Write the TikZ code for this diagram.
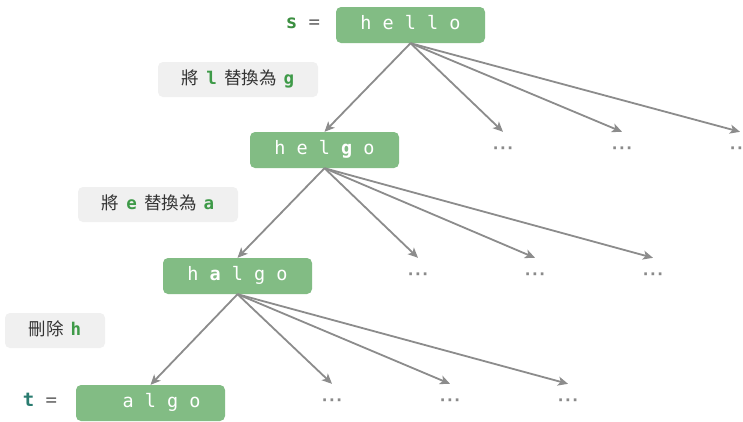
\documentclass[tikz,border=0pt]{standalone}
\usepackage{fontspec}
\setmonofont{DejaVu Sans Mono}
\newfontfamily\cjk{Noto Sans CJK TC}
\newfontfamily\djv{DejaVu Sans}
\usetikzlibrary{arrows.meta}
\definecolor{boxgreen}{HTML}{82BC84}
\definecolor{lblgray}{HTML}{F0F0F0}
\definecolor{lbltext}{HTML}{333333}
\definecolor{hlgreen}{HTML}{3E9A48}
\definecolor{sgreen}{HTML}{3B8F40}
\definecolor{tteal}{HTML}{2A7C70}
\definecolor{eqgray}{HTML}{666666}
\definecolor{arrgray}{HTML}{8C8C8C}
\definecolor{dotgray}{HTML}{8A8A8A}
\newcommand{\hl}[1]{\textcolor{hlgreen}{\ttfamily\bfseries #1}}
\newcommand{\mydots}{·\kern1.6pt·\kern1.6pt·}
\begin{document}
\begin{tikzpicture}[x=1pt,y=-1pt,
  strbox/.style={fill=boxgreen, rounded corners=5pt, minimum width=149pt, minimum height=36pt,
    inner sep=0pt, text=white, text height=13pt, text depth=4pt,
    font=\ttfamily\fontsize{18.5}{18.5}\selectfont},
  opbox/.style={fill=lblgray, rounded corners=5pt, minimum height=35pt, inner sep=0pt,
    text=lbltext, text height=13pt, text depth=4pt, font=\cjk\fontsize{17.5}{17.5}\selectfont},
  more/.style={minimum width=30pt, minimum height=36pt, inner sep=0pt, text=dotgray,
    font=\djv\bfseries\fontsize{15}{15}\selectfont},
  eqlbl/.style={inner sep=0pt, text height=13pt, text depth=4pt,
    font=\ttfamily\fontsize{19}{19}\selectfont},
  edge/.style={draw=arrgray, line width=1.8pt, -{Stealth[length=10pt,width=9pt,inset=2.5pt]}}]
\path[fill=white, use as bounding box] (0,0) rectangle (743,421);

% string boxes
\node[strbox] (hello) at (410.5,25) {h e l l o};
\node[strbox] (helgo) at (324.5,150) {h e l {\bfseries g} o};
\node[strbox] (halgo) at (237.5,276) {h {\bfseries a} l g o};
\node[strbox] (algo) at (150.5,403) {\phantom{h} a l g o};

% s = , t =
\node[eqlbl] (slbl) at (303,24) {\textcolor{sgreen}{\bfseries s} \textcolor{eqgray}{=}};
\node[eqlbl] (tlbl) at (40,402) {\textcolor{tteal}{\bfseries t} \textcolor{eqgray}{=}};

% operation labels
\node[opbox, minimum width=160pt] (op1) at (238,79.5) {將\hspace{7pt}\hl{l}\hspace{7pt}替換為\hspace{7pt}\hl{g}};
\node[opbox, minimum width=160pt] (op2) at (158,204.5) {將\hspace{7pt}\hl{e}\hspace{7pt}替換為\hspace{7pt}\hl{a}};
\node[opbox, minimum width=100pt] (op3) at (55,330.5) {刪除\hspace{7pt}\hl{h}};

% dots
\node[more] (d11) at (503,150) {\mydots};
\node[more] (d12) at (622,150) {\mydots};
\node[more] (d13) at (740,150) {\mydots};
\node[more] (d21) at (418,276) {\mydots};
\node[more] (d22) at (535,276) {\mydots};
\node[more] (d23) at (653,276) {\mydots};
\node[more] (d31) at (332,402) {\mydots};
\node[more] (d32) at (450,402) {\mydots};
\node[more] (d33) at (568,402) {\mydots};

% arrows
\foreach \t in {helgo,d11,d12,d13} \draw[edge] (hello.south) -- (\t.north);
\foreach \t in {halgo,d21,d22,d23} \draw[edge] (helgo.south) -- (\t.north);
\foreach \t in {algo,d31,d32,d33} \draw[edge] (halgo.south) -- (\t.north);
\end{tikzpicture}
\end{document}
